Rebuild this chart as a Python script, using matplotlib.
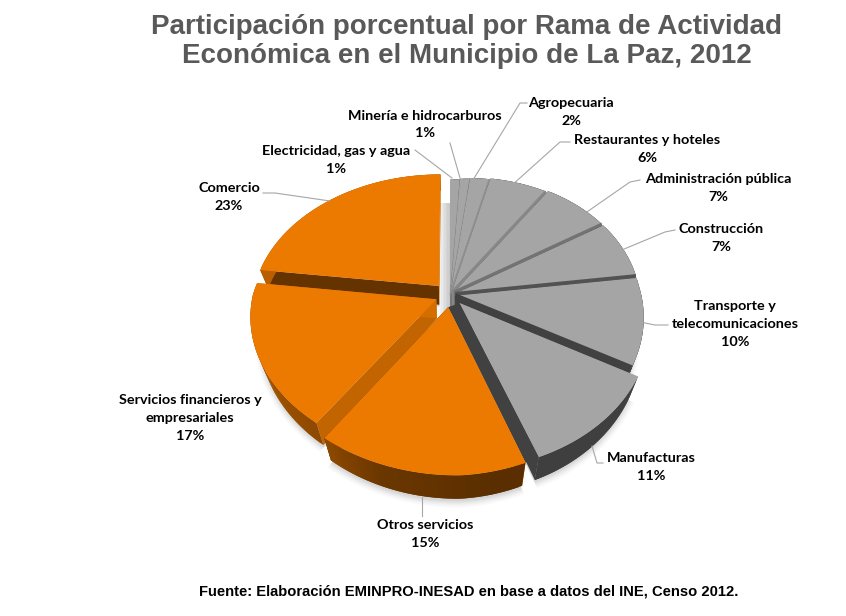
import numpy as np
import matplotlib
matplotlib.use("Agg")
import matplotlib.pyplot as plt
from matplotlib.patches import Polygon

# ramas de actividad, in clockwise order starting at 12 o'clock
ramas = ["Electricidad, gas y agua", "Minería e hidrocarburos", "Agropecuaria",
         "Restaurantes y hoteles", "Administración pública", "Construcción",
         "Transporte y\ntelecomunicaciones", "Manufacturas", "Otros servicios",
         "Servicios financieros y\nempresariales", "Comercio"]
valores = [1, 1, 2, 6, 7, 7, 10, 11, 15, 17, 23]
resaltados = ["Otros servicios", "Servicios financieros y\nempresariales", "Comercio"]

titulo = "Participación porcentual por Rama de Actividad\nEconómica en el Municipio de La Paz, 2012"
fuente = "Fuente: Elaboración EMINPRO-INESAD en base a datos del INE, Censo 2012."

# pie explosion and radius factor for each slice
explode = [0, 0.005, 0.012, 0.02, 0.03, 0.03, 0.03, 0.08, 0.09, 0.08, 0.09]
radio = [1, 1, 1, 1, 1, 1, 1, 1, 1, 0.97, 0.985]
# width of the dark band on the clockwise edge of the grey slices
ancho_borde = [0.4, 0.4, 1.2, 2.0, 2.2, 2.4, 3.4]

GRIS = np.array([165, 165, 165]) / 255
NARANJA = np.array([237, 122, 0]) / 255

# projection of the disc (fake 3D like the office pies)
CX, CY = 450, 295
RX, RY = 189, 135
K, M, DEPTH = 0.17, 0.045, 19
SHEAR = 0.05
TILT = 0.05
RIGHT = 0.97


def proy(x, y, z=0.0):
    w0 = 1 + K * y
    w = w0 + M * z
    x2 = np.where(x > 0, x * RIGHT, x)
    sx = CX + RX * (x2 / w + SHEAR * np.maximum(0, -y))
    sy = CY + (-RY * y + DEPTH * z) / w0 - RX * TILT * np.maximum(0, x)
    return np.column_stack([sx, sy])


def f_lateral(ang):
    # shading of the outer wall
    return np.interp(ang, [90, 120, 170, 200, 216, 277, 360], [0.5, 0.38, 0.38, 0.45, 0.6, 0.78, 0.8])


def f_radial(normal):
    # shading of the radial walls
    return np.interp(normal % 360, [90, 126, 151, 176, 190, 260], [0.9, 0.82, 0.7, 0.5, 0.4, 0.39])


def borde(p, ang):
    # radial edge of a slice, apex to rim
    r = np.radians(ang)
    x = np.array([p["ox"], p["ox"] + p["rad"] * np.sin(r)])
    y = np.array([p["oy"], p["oy"] + p["rad"] * np.cos(r)])
    return x, y


fig = plt.figure(figsize=(8.46, 6.16), dpi=100)
ax = fig.add_axes([0, 0, 1, 1])
ax.set_xlim(0, 846)
ax.set_ylim(616, 0)
ax.axis("off")

acum = np.cumsum([0] + valores) / sum(valores) * 360
porciones = []
for i, rama in enumerate(ramas):
    t = np.radians(np.linspace(acum[i], acum[i + 1], max(4, int(valores[i] * 4))))
    medio = np.radians((acum[i] + acum[i + 1]) / 2)
    ox, oy = explode[i] * np.sin(medio), explode[i] * np.cos(medio)
    px = np.r_[ox, ox + radio[i] * np.sin(t)]
    py = np.r_[oy, oy + radio[i] * np.cos(t)]
    base = NARANJA if rama in resaltados else GRIS
    porciones.append(dict(t=t, ox=ox, oy=oy, px=px, py=py, base=base, my=np.cos(medio),
                          a0=acum[i], a1=acum[i + 1], rad=radio[i]))

# soft shadow under the pie
for esc, alfa in [(1.03, 0.015), (1.024, 0.02), (1.018, 0.025), (1.012, 0.03), (1.006, 0.035), (1.0, 0.04)]:
    for p in porciones:
        xy = proy(p["px"] * esc, p["py"] * esc, 1.1)
        ax.add_patch(Polygon(xy, closed=True, fc="k", ec="none", alpha=alfa, zorder=1))

# shadow inside the gap next to Comercio
for x0 in np.arange(438, 450, 1.5):
    ax.fill_between([x0, 452], 203, 316, color="k", alpha=0.028, lw=0, zorder=1)

# painter's order, back slices first
orden = sorted(porciones, key=lambda p: -p["my"])
z = 2

# dark wall behind Otros servicios, closes the gap to Manufacturas
man, otr = porciones[7], porciones[8]
xm, ym = borde(man, man["a1"])
xo, yo = borde(otr, otr["a0"])
relleno = np.vstack([proy(xm, ym), proy(xo[::-1], yo[::-1])])

for p in orden:
    t, ox, oy, base, rad = p["t"], p["ox"], p["oy"], p["base"], p["rad"]
    # radial walls
    for ang, normal in [(p["a0"], p["a0"] - 90), (p["a1"], p["a1"] + 90)]:
        x, y = borde(p, ang)
        xy = np.vstack([proy(x, y, 0), proy(x[::-1], y[::-1], 1)])
        c = base * f_radial(normal)
        ax.add_patch(Polygon(xy, closed=True, fc=c, ec="none", zorder=z))
        z += 1
    # outer wall, strips overlap the next one to hide the seams
    for j in range(len(t) - 1):
        tt = t[j:min(j + 3, len(t))]
        x, y = ox + rad * np.sin(tt), oy + rad * np.cos(tt)
        xy = np.vstack([proy(x, y, 0), proy(x[::-1], y[::-1], 1)])
        c = base * f_lateral(np.degrees((t[j] + t[j + 1]) / 2))
        ax.add_patch(Polygon(xy, closed=True, fc=c, ec="none", zorder=z))
        z += 1
    if p is man:
        ax.add_patch(Polygon(relleno, closed=True, fc=base * f_radial(p["a1"] + 90), ec="none", zorder=z))
        z += 1
    ax.add_patch(Polygon(proy(p["px"], p["py"]), closed=True, fc=base, ec="none", zorder=z))
    z += 1

# dark bands between the grey slices
for p, ancho in zip(porciones, ancho_borde):
    x, y = borde(p, p["a1"])
    xy = proy(x, y)
    ax.plot(xy[:, 0], xy[:, 1], color=p["base"] * f_radial(p["a1"] + 90), lw=ancho,
            solid_capstyle="butt", zorder=z)

# leader lines
lineas = [
    [(415, 150), (452, 178)],
    [(450, 143), (460, 178)],
    [(527, 103), (520, 103), (473, 180)],
    [(570, 142), (560, 142), (511, 186)],
    [(640, 180), (630, 182), (571, 223)],
    [(675, 230), (665, 232), (617, 252)],
    [(668, 325), (655, 325), (640, 322)],
    [(603, 463), (597, 463), (592, 446)],
    [(422, 497), (422, 516)],
    [(263, 193), (275, 193), (330, 201)],
]
for ln in lineas:
    xs, ys = zip(*ln)
    ax.plot(xs, ys, color="#a6a6a6", lw=0.8, zorder=z)

# data labels, same order as ramas
pos_etiquetas = [(336, 160), (425, 124.5), (571, 112), (647, 149), (718, 188),
                 (721, 238), (735, 324), (651, 467), (425, 534), (190, 418), (229, 197)]
for rama, v, (x, y) in zip(ramas, valores, pos_etiquetas):
    ax.text(x, y, "{}\n{}%".format(rama, v), ha="center", va="center", family="Lato",
            fontweight="bold", fontsize=10.4, color="black", linespacing=1.58, zorder=z + 1)

ax.text(466.5, 41.5, titulo, ha="center", va="center", family="Liberation Sans", fontweight="bold",
        fontsize=20, color="#595959", linespacing=1.14)
ax.text(469, 592, fuente, ha="center", va="center", family="Liberation Sans", fontweight="bold",
        fontsize=10.6, color="black")

fig.savefig("out.png", dpi=100)
